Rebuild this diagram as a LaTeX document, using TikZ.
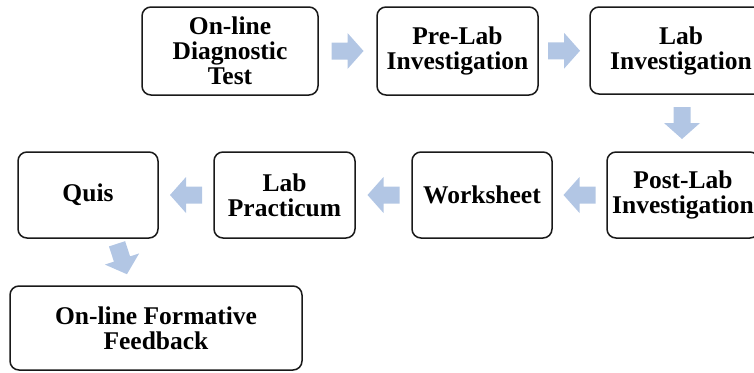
\documentclass[tikz,border=0pt]{standalone}
\usepackage{fontspec}
\setmainfont{Liberation Serif}
\usetikzlibrary{calc}
\definecolor{arrowblue}{RGB}{178,198,228}
\tikzset{
  stagebox/.style={draw=black!90, line width=1.5pt, rounded corners=9pt, fill=white,
    align=center, inner sep=2pt, font=\bfseries\fontsize{25.5}{25}\selectfont},
  pics/flowarrow/.style={code={
    \fill[arrowblue] (-16,-8.5) -- (0,-8.5) -- (0,-18) -- (16,0) -- (0,18) -- (0,8.5) -- (-16,8.5) -- cycle;}}
}
\begin{document}
\begin{tikzpicture}[x=1pt, y=-1pt]
	\useasboundingbox (0,0) rectangle (754,372);
	\clip (0,0) rectangle (754,372);
	
	\node[stagebox, minimum width=176, minimum height=88] (diag) at (230,51) {On-line\\Diagnostic\\Test};
	\node[stagebox, minimum width=161, minimum height=88] (prelab) at (457.5,51) {Pre-Lab\\Investigation};
	\node[stagebox, minimum width=182, minimum height=87] (lab) at (681,50.5) {Lab\\Investigation};
	
	\node[stagebox, minimum width=152, minimum height=86] (postlab) at (683,195) {Post-Lab\\Investigation};
	\node[stagebox, minimum width=140, minimum height=86] (worksheet) at (482,195) {Worksheet};
	\node[stagebox, minimum width=141, minimum height=86] (practicum) at (284.5,195) {Lab\\Practicum};
	\node[stagebox, minimum width=140, minimum height=86] (quis) at (88,195) {Quis};
	
	\node[stagebox, minimum width=292, minimum height=84] (feedback) at (156,328) {On-line Formative\\Feedback};
	
	\pic at ($(diag.east)!0.5!(prelab.west)$) {flowarrow};
	\pic at ($(prelab.east)!0.5!(lab.west)$) {flowarrow};
	\pic[rotate=-90] at ($(lab.south)!0.5!(postlab.north)$) {flowarrow};
	\pic[rotate=180] at ($(postlab.west)!0.5!(worksheet.east)$) {flowarrow};
	\pic[rotate=180] at ($(worksheet.west)!0.5!(practicum.east)$) {flowarrow};
	\pic[rotate=180] at ($(practicum.west)!0.5!(quis.east)$) {flowarrow};
	\pic[rotate=-72] at ($(quis.south)!0.5!(feedback.north)+(0,-3)$) {flowarrow};
\end{tikzpicture}
\end{document}
